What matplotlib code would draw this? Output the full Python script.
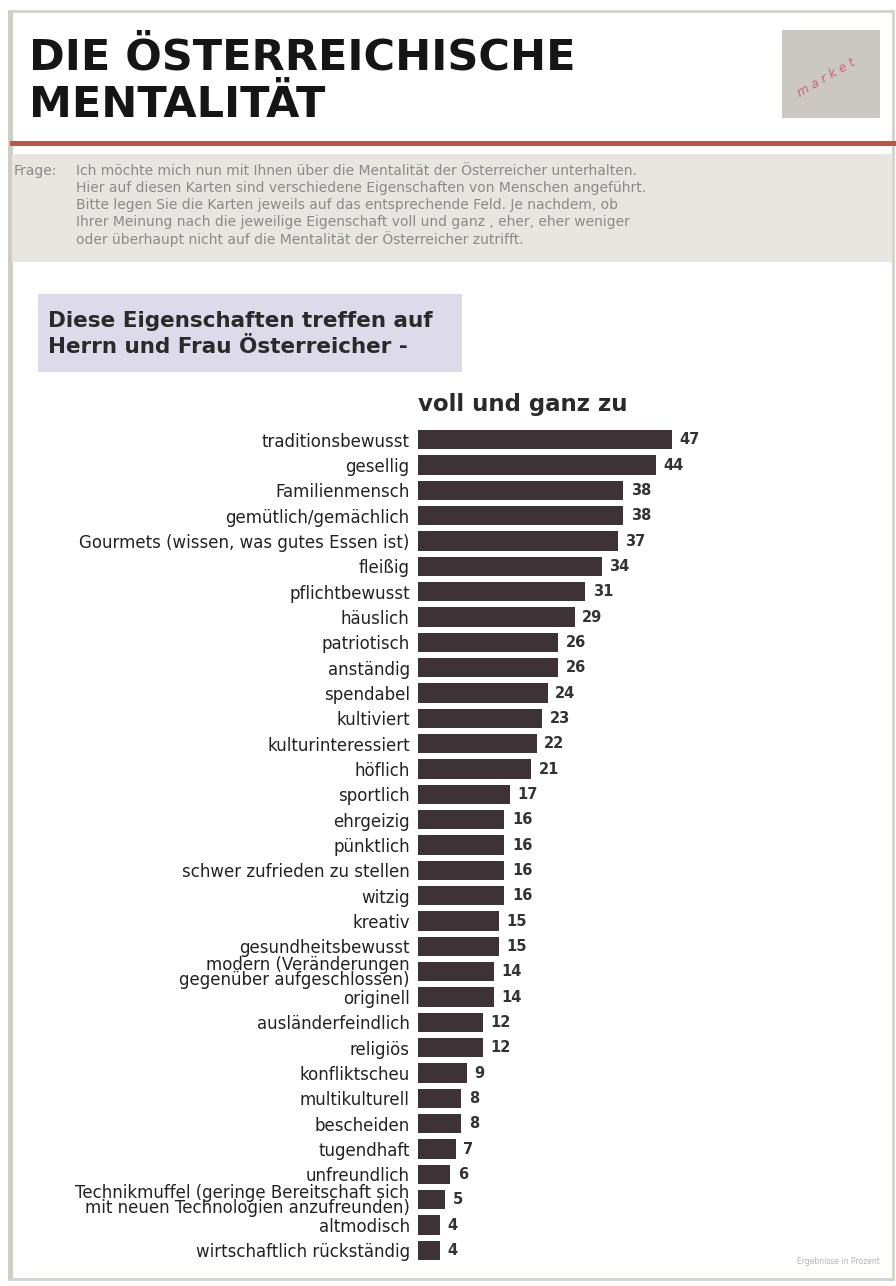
import matplotlib.pyplot as plt
from matplotlib.patches import Rectangle

# Daten
eigenschaften = [
    'traditionsbewusst', 'gesellig', 'Familienmensch', 'gemütlich/gemächlich',
    'Gourmets (wissen, was gutes Essen ist)', 'fleißig', 'pflichtbewusst',
    'häuslich', 'patriotisch', 'anständig', 'spendabel', 'kultiviert',
    'kulturinteressiert', 'höflich', 'sportlich', 'ehrgeizig', 'pünktlich',
    'schwer zufrieden zu stellen', 'witzig', 'kreativ', 'gesundheitsbewusst',
    'modern (Veränderungen\ngegenüber aufgeschlossen)', 'originell',
    'ausländerfeindlich', 'religiös', 'konfliktscheu', 'multikulturell',
    'bescheiden', 'tugendhaft', 'unfreundlich',
    'Technikmuffel (geringe Bereitschaft sich\nmit neuen Technologien anzufreunden)',
    'altmodisch', 'wirtschaftlich rückständig',
]
werte = [47, 44, 38, 38, 37, 34, 31, 29, 26, 26, 24, 23, 22, 21, 17, 16, 16,
         16, 16, 15, 15, 14, 14, 12, 12, 9, 8, 8, 7, 6, 5, 4, 4]

titel = 'DIE ÖSTERREICHISCHE\nMENTALITÄT'
frage = ['Ich möchte mich nun mit Ihnen über die Mentalität der Österreicher unterhalten.',
         'Hier auf diesen Karten sind verschiedene Eigenschaften von Menschen angeführt.',
         'Bitte legen Sie die Karten jeweils auf das entsprechende Feld. Je nachdem, ob',
         'Ihrer Meinung nach die jeweilige Eigenschaft voll und ganz , eher, eher weniger',
         'oder überhaupt nicht auf die Mentalität der Österreicher zutrifft.']
untertitel = 'Diese Eigenschaften treffen auf\nHerrn und Frau Österreicher -'
spalte = 'voll und ganz zu'
fuss = 'Ergebnisse in Prozent'

W, H = 896, 1286
fig = plt.figure(figsize=(W / 100, H / 100), dpi=100)
fig.patch.set_facecolor('white')


def fx(x):
    return x / W


def fy(y):
    return 1 - y / H


# Rahmen
fig.patches.append(Rectangle((fx(9), fy(1279)), fx(884), (1279 - 11) / H,
                             transform=fig.transFigure, fill=False,
                             edgecolor='#d4d2cc', lw=2))
fig.patches.append(Rectangle((fx(8), fy(1279)), fx(5), (1279 - 11) / H,
                             transform=fig.transFigure, color='#cfcdc6', lw=0))

# Titel
fig.text(fx(29), fy(37), titel, fontsize=31, fontweight='bold', va='top',
         ha='left', color='#151515', linespacing=1.15, family='DejaVu Sans')

# Logo
fig.patches.append(Rectangle((fx(782), fy(118)), fx(98), 88 / H,
                             transform=fig.transFigure, color='#cbc7c2', lw=0))
fig.text(fx(826), fy(78), 'm a r k e t', fontsize=9, color='#d84a5a', rotation=30,
         ha='center', va='center', style='italic', alpha=0.8)

# rote Linie
fig.patches.append(Rectangle((fx(10), fy(146)), fx(886), 5 / H,
                             transform=fig.transFigure, color='#c2553d', lw=0))

# Frage-Box
fig.patches.append(Rectangle((fx(12), fy(262)), fx(880), 108 / H,
                             transform=fig.transFigure, color='#e8e6e1', lw=0))
fig.text(fx(14), fy(171), 'Frage:', fontsize=10, color='#8a8a8a', va='center')
for i, zeile in enumerate(frage):
    fig.text(fx(76), fy(171 + i * 17), zeile, fontsize=10, color='#8a8a8a',
             va='center')

# Untertitel-Box
fig.patches.append(Rectangle((fx(38), fy(372)), fx(424), 78 / H,
                             transform=fig.transFigure, color='#dddaea', lw=0))
fig.text(fx(48), fy(334), untertitel, fontsize=15.5, fontweight='bold',
         color='#2a2a2a', va='center', linespacing=1.4)

fig.text(fx(418), fy(404), spalte, fontsize=16.5, fontweight='bold',
         color='#2a2a2a', va='center')

# Balken
ax = fig.add_axes([fx(418), fy(1263), fx(324), (1263 - 427) / H])
y = list(range(len(werte)))
ax.barh(y, werte, height=0.76, color='#3d3336')
ax.set_ylim(len(werte) - 0.5, -0.5)
ax.set_xlim(0, 60)
ax.set_yticks(y)
ax.set_yticklabels(eigenschaften, fontsize=12, color='#222222', linespacing=0.8)
ax.tick_params(axis='y', length=0, pad=6)
ax.set_xticks([])
for s in ax.spines.values():
    s.set_visible(False)
ax.patch.set_alpha(0)
for yi, v in zip(y, werte):
    ax.text(v + 1.4, yi, str(v), va='center', ha='left', fontsize=10.5,
            fontweight='bold', color='#333333')

fig.text(fx(880), fy(1262), fuss, fontsize=5.5, color='#b5b5b5', ha='right',
         va='center')

fig.savefig('out.png', dpi=100)
